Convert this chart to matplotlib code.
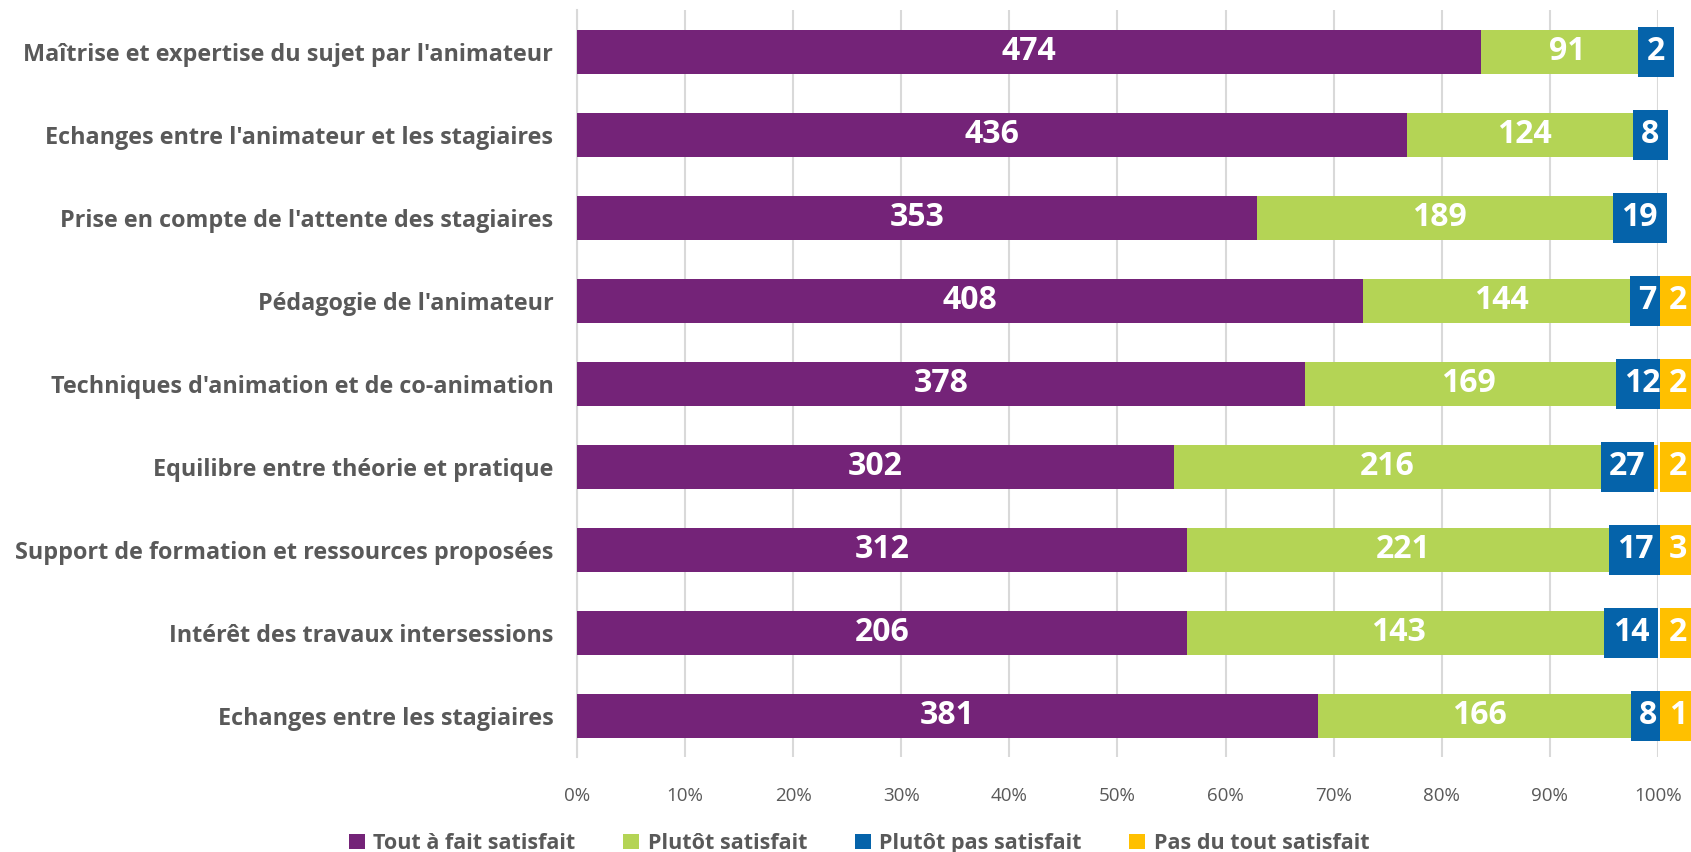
import matplotlib
matplotlib.use("Agg")
import matplotlib.pyplot as plt
import numpy as np

plt.rcParams["font.family"] = ["Open Sans", "DejaVu Sans"]

categories = [
    "Maîtrise et expertise du sujet par l'animateur",
    "Echanges entre l'animateur et les stagiaires",
    "Prise en compte de l'attente des stagiaires",
    "Pédagogie de l'animateur",
    "Techniques d'animation et de co-animation",
    "Equilibre entre théorie et pratique",
    "Support de formation et ressources proposées",
    "Intérêt des travaux intersessions",
    "Echanges entre les stagiaires",
]
series_names = ["Tout à fait satisfait", "Plutôt satisfait",
                "Plutôt pas satisfait", "Pas du tout satisfait"]
tout_a_fait = [474, 436, 353, 408, 378, 302, 312, 206, 381]
plutot = [91, 124, 189, 144, 169, 216, 221, 143, 166]
plutot_pas = [2, 8, 19, 7, 12, 27, 17, 14, 8]
pas_du_tout = [0, 0, 0, 2, 2, 2, 3, 2, 1]

colors = ["#742378", "#B4D455", "#0563AA", "#FFC000"]
grey = "#595959"

counts = np.array([tout_a_fait, plutot, plutot_pas, pas_du_tout], dtype=float)
shares = counts / counts.sum(axis=0)

fig = plt.figure(figsize=(16.91, 8.52), dpi=100)
ax = fig.add_axes([0.3412, 0.111, 0.6393, 0.8769])

y = np.arange(len(categories))
left = np.zeros(len(categories))
for i, name in enumerate(series_names):
    ax.barh(y, shares[i], left=left, height=0.53, color=colors[i],
            label=name, zorder=3)
    for j in range(len(categories)):
        if counts[i, j] == 0:
            continue
        xc = left[j] + shares[i, j] / 2
        box = None
        if i >= 2:
            # small segments get a filled label box, like Excel does
            box = dict(boxstyle="square,pad=0.27", fc=colors[i], ec="none")
        if i == 3:
            # Excel pushes the tiny last labels to the right of the bar
            xc = 1.0185
        ax.text(xc, y[j], f"{int(counts[i, j])}", ha="center", va="center",
                color="white", fontsize=23, fontweight="bold",
                bbox=box, zorder=5 + i, clip_on=False)
    left += shares[i]

ax.set_xlim(0, 1)
ax.set_ylim(len(categories) - 0.5, -0.5)
ax.set_yticks(y)
ax.set_yticklabels(categories, fontsize=16.8, fontweight="bold", color=grey)
ax.set_xticks(np.linspace(0, 1, 11))
ax.set_xticklabels([f"{k}%" for k in range(0, 101, 10)], fontsize=13.5, color=grey)
ax.tick_params(axis="both", length=0)
ax.tick_params(axis="y", pad=17)
ax.tick_params(axis="x", pad=21)
ax.grid(axis="x", color="#D9D9D9", linewidth=1.5, zorder=0)
for s in ["top", "right", "bottom"]:
    ax.spines[s].set_visible(False)
ax.spines["left"].set_color("#D9D9D9")
ax.spines["left"].set_linewidth(1.5)

fig.legend(loc="lower center", bbox_to_anchor=(0.508, -0.025), ncol=4,
           frameon=False, handlelength=0.75, handleheight=0.75,
           columnspacing=2.2, handletextpad=0.4,
           prop={"weight": "bold", "size": 15.5}, labelcolor=grey)

fig.savefig("out.png", dpi=100)
